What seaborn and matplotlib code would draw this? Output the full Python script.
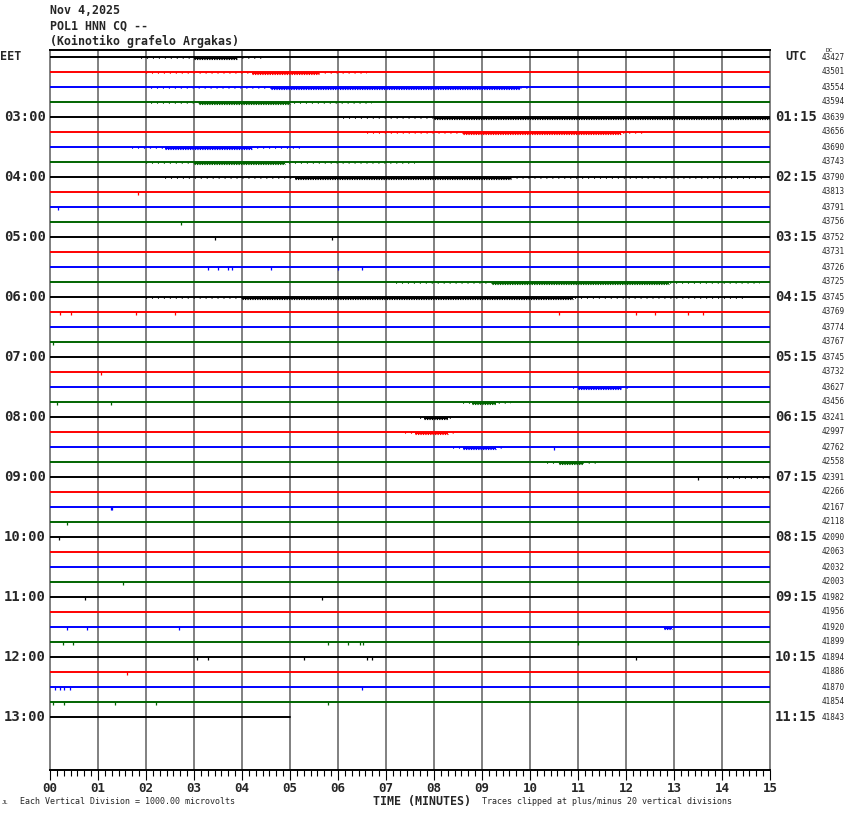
import matplotlib
matplotlib.use("Agg")
import matplotlib.pyplot as plt
from matplotlib.ticker import MultipleLocator
import pandas as pd
import seaborn as sns

# ---------------------------------------------------------------------------
# Data read off the helicorder
# ---------------------------------------------------------------------------

N_ROWS = 45                 # one trace per 15 minutes, 02:00 .. 13:00 EET
LAST_ROW_END = 5.0          # last trace stops at minute 5
TRACE_COLOURS = ["black", "red", "blue", "#006400"]

ROW_COUNTS = [
    43427, 43501, 43554, 43594, 43639, 43656, 43690, 43743, 43790, 43813,
    43791, 43756, 43752, 43731, 43726, 43725, 43745, 43769, 43774, 43767,
    43745, 43732, 43627, 43456, 43241, 42997, 42762, 42558, 42391, 42266,
    42167, 42118, 42090, 42063, 42032, 42003, 41982, 41956, 41920, 41899,
    41894, 41886, 41870, 41854, 41843,
]

EET_LABELS = ["03:00", "04:00", "05:00", "06:00", "07:00", "08:00",
              "09:00", "10:00", "11:00", "12:00", "13:00"]
UTC_LABELS = ["01:15", "02:15", "03:15", "04:15", "05:15", "06:15",
              "07:15", "08:15", "09:15", "10:15", "11:15"]
LABEL_ROWS = [4, 8, 12, 16, 20, 24, 28, 32, 36, 40, 44]

# (row, start minute, end minute) - scattered activity
SPARSE_BURSTS = [
    (0, 1.9, 4.5), (1, 2.0, 6.6), (2, 2.1, 10.0), (3, 2.1, 6.7),
    (4, 6.1, 15.0), (5, 6.6, 12.4), (6, 1.7, 5.2), (7, 2.0, 7.6),
    (8, 2.4, 14.9), (15, 7.2, 14.8), (16, 2.0, 14.5), (22, 10.9, 12.1),
    (23, 8.6, 9.6), (24, 7.7, 8.4), (25, 7.4, 8.5), (26, 8.4, 9.5),
    (27, 10.35, 11.4), (28, 14.1, 15.0),
]

# (row, start minute, end minute) - dense activity
DENSE_BURSTS = [
    (0, 3.0, 3.9), (1, 4.2, 5.6), (2, 4.6, 9.8), (3, 3.1, 5.0),
    (4, 8.0, 15.0), (5, 8.6, 11.9), (6, 2.4, 4.2), (7, 3.0, 4.9),
    (8, 5.1, 9.6), (15, 9.2, 12.9), (16, 4.0, 10.9), (22, 11.0, 11.9),
    (23, 8.8, 9.3), (24, 7.8, 8.3), (25, 7.6, 8.3), (26, 8.6, 9.3),
    (27, 10.6, 11.1), (38, 12.8, 12.95),
]

# isolated spikes: (row, minute)
SPIKES = [
    (9, 1.83), (10, 0.17), (11, 2.73), (12, 3.44), (12, 5.87),
    (14, 3.3), (14, 3.5), (14, 3.7), (14, 3.8), (14, 4.6), (14, 6.0), (14, 6.5),
    (17, 0.2), (17, 0.44), (17, 1.8), (17, 2.6), (17, 10.6), (17, 12.2),
    (17, 12.6), (17, 13.3), (17, 13.6), (19, 0.06), (21, 1.06),
    (23, 0.15), (23, 1.27), (26, 10.5), (28, 13.5), (30, 1.27), (30, 1.3),
    (31, 0.36), (32, 0.18), (35, 1.53), (36, 0.73), (36, 5.67),
    (38, 0.36), (38, 0.78), (38, 2.68), (39, 0.27), (39, 0.48), (39, 5.8),
    (39, 6.2), (39, 6.45), (39, 6.52), (39, 11.0), (40, 3.06), (40, 3.3),
    (40, 5.3), (40, 6.6), (40, 6.7), (40, 12.2), (41, 1.6), (42, 0.1),
    (42, 0.2), (42, 0.3), (42, 0.42), (42, 6.5), (43, 0.06), (43, 0.3),
    (43, 1.36), (43, 2.2), (43, 5.8),
]

# ---------------------------------------------------------------------------
# Figure
# ---------------------------------------------------------------------------

W, H = 850, 814
sns.set_style("white")
plt.rcParams["font.family"] = ["DejaVu Sans Mono", "DejaVu Sans"]


def fx(x):
    return x / W


def fy(y):
    return 1 - y / H


fig = plt.figure(figsize=(W / 100, H / 100), dpi=100)
ax = fig.add_axes([fx(50), fy(770), (770 - 50) / W, (770 - 50) / H])

colour_of = lambda r: TRACE_COLOURS[r % 4]

# base traces
rows = []
for r in range(N_ROWS):
    end = LAST_ROW_END if r == N_ROWS - 1 else 15.0
    rows.append({"row": r, "minute": 0.0, "colour": colour_of(r)})
    rows.append({"row": r, "minute": end, "colour": colour_of(r)})
traces = pd.DataFrame(rows)
sns.lineplot(data=traces, x="minute", y="row", hue="colour", units="row",
             estimator=None, palette={c: c for c in TRACE_COLOURS},
             legend=False, lw=1.4, ax=ax, zorder=3)

for r, a, b in SPARSE_BURSTS:
    ax.hlines(r + 0.08, a, b, color=colour_of(r), lw=1.1,
              linestyles=(0, (0.7, 3.2)), zorder=4)
for r, a, b in DENSE_BURSTS:
    ax.hlines(r + 0.07, a, b, color=colour_of(r), lw=1.6, zorder=4)
    ax.hlines(r + 0.14, a, b, color=colour_of(r), lw=0.8,
              linestyles=(0, (1.2, 1.0)), zorder=4)
for r, m in SPIKES:
    ax.vlines(m, r, r + 0.2, color=colour_of(r), lw=0.9, zorder=4)

# axes / grid
ax.set_xlim(0, 15)
ax.set_ylim((770 - 57) / 15, (50 - 57) / 15)
ax.set_xlabel("")
ax.set_ylabel("")
ax.set_yticks([])
ax.xaxis.set_minor_locator(MultipleLocator(1 / 7))
ax.set_xticks(range(16))
ax.set_xticklabels([f"{m:02d}" for m in range(16)], fontsize=9,
                   fontweight="bold")
ax.tick_params(axis="x", which="major", direction="out", length=7.5,
               width=0.8, color="black", pad=1, bottom=True)
ax.tick_params(axis="x", which="minor", direction="out", length=4.3,
               width=0.8, color="black", bottom=True)
ax.grid(axis="x", which="major", color="#808080", lw=1.4, zorder=1)
ax.grid(axis="y", visible=False)
for side in ["left", "right"]:
    ax.spines[side].set_color("#808080")
    ax.spines[side].set_linewidth(1.4)
for side in ["top", "bottom"]:
    ax.spines[side].set_color("black")
    ax.spines[side].set_linewidth(1.4)

# row labels
for r, eet, utc in zip(LABEL_ROWS, EET_LABELS, UTC_LABELS):
    ax.text((4 - 50) / 48, r, eet, ha="left", va="center", fontsize=10,
            fontweight="bold")
    ax.text((775 - 50) / 48, r, utc, ha="left", va="center", fontsize=10,
            fontweight="bold")
for r, n in enumerate(ROW_COUNTS):
    ax.text((822 - 50) / 48, r, str(n), ha="left", va="center", fontsize=5.5)

ax.text((0 - 50) / 48, 0, "EET", ha="left", va="center", fontsize=8.5,
        fontweight="bold")
ax.text((785 - 50) / 48, 0, "UTC", ha="left", va="center", fontsize=8.5,
        fontweight="bold")
fig.text(fx(826), fy(50), "DC", ha="left", va="center", fontsize=4.5)

# header
for y, s in [(11, "Nov 4,2025"), (26, "POL1 HNN CQ --"),
             (41, "(Koinotiko grafelo Argakas)")]:
    fig.text(fx(50), fy(y), s, ha="left", va="center", fontsize=8.4,
             fontweight="bold")

# footer
fig.text(fx(2), fy(802), "JL", ha="left", va="center", fontsize=4)
fig.text(fx(20), fy(801), "Each Vertical Division = 1000.00 microvolts",
         ha="left", va="center", fontsize=6)
fig.text(fx(373), fy(801), "TIME (MINUTES)", ha="left", va="center",
         fontsize=8.4, fontweight="bold")
fig.text(fx(482), fy(801), "Traces clipped at plus/minus 20 vertical divisions",
         ha="left", va="center", fontsize=6)

fig.savefig("out.png", dpi=100)
